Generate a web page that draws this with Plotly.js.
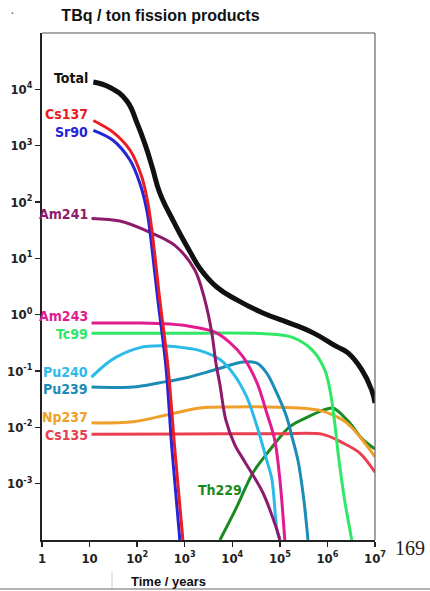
<!DOCTYPE html>
<html>
<head>
<meta charset="utf-8">
<script src="https://cdn.plot.ly/plotly-3.0.1.min.js"></script>
<style>
html,body{margin:0;padding:0;background:#fff;}
#chart{width:430px;height:591px;}
#chart text{font-stretch:condensed;}
</style>
</head>
<body>
<div id="chart"></div>
<script>
// ---- data (years, TBq per ton) ----
var totalT = [12, 27, 60, 100, 150, 210, 300, 560, 800, 1300, 2100, 4700, 12500, 44000, 160000, 490000, 1580000, 2700000, 5300000, 8500000, 10000000];
var totalY = [13500, 10800, 6300, 2500, 1000, 400, 144, 48, 27, 13, 6.6, 3.1, 1.83, 1.07, 0.71, 0.48, 0.27, 0.21, 0.105, 0.046, 0.027];

var cs137T = [12, 31, 71, 126, 168, 205, 300, 445, 620, 915];
var cs137Y = [2800, 1740, 830, 275, 96, 31, 1.8, 0.118, 0.004, 0.0001];

var sr90T = [12, 31, 71, 114, 160, 185, 273, 403, 540, 790];
var sr90Y = [1870, 1250, 550, 215, 71, 31, 1.8, 0.118, 0.004, 0.0001];

var am241T = [11, 43, 186, 620, 1630, 2650, 3720, 4530, 5500, 7300, 11300, 18300, 44000, 87000, 100000];
var am241Y = [51, 46, 29, 17, 6.2, 1.82, 0.47, 0.138, 0.057, 0.0136, 0.0049, 0.00245, 0.00069, 0.00015, 0.0001];

var am243T = [11, 114, 490, 1630, 4300, 8900, 16700, 33000, 53000, 78000, 100000, 127000];
var am243Y = [0.71, 0.71, 0.68, 0.60, 0.49, 0.32, 0.18, 0.062, 0.018, 0.006, 0.0012, 0.0001];

var tc99T = [11, 2000, 48000, 178000, 470000, 880000, 1180000, 1440000, 1740000, 2300000, 3250000];
var tc99Y = [0.47, 0.47, 0.46, 0.40, 0.24, 0.105, 0.038, 0.011, 0.0027, 0.00051, 0.0001];

var pu240T = [11, 21, 38, 115, 300, 920, 2090, 5500, 10300, 20000, 35000, 53000, 68000, 87000, 100000];
var pu240Y = [0.078, 0.128, 0.18, 0.26, 0.28, 0.26, 0.23, 0.16, 0.092, 0.035, 0.0089, 0.0026, 0.0012, 0.00015, 0.0001];

var pu239T = [11, 82, 300, 1100, 4300, 16700, 33000, 53000, 87000, 140000, 187000, 240000, 320000, 390000];
var pu239Y = [0.052, 0.052, 0.062, 0.076, 0.105, 0.145, 0.138, 0.092, 0.040, 0.015, 0.006, 0.0026, 0.00051, 0.0001];

var np237T = [11, 82, 420, 2090, 10300, 53000, 260000, 690000, 1300000, 2560000, 4800000, 10000000];
var np237Y = [0.012, 0.0126, 0.0166, 0.022, 0.023, 0.023, 0.022, 0.020, 0.0166, 0.012, 0.0068, 0.003];

var cs135T = [11, 1000, 100000, 800000, 2100000, 4800000, 10000000];
var cs135Y = [0.0075, 0.0076, 0.0077, 0.0075, 0.0053, 0.0035, 0.0016];

var th229T = [5500, 12500, 27000, 62000, 160000, 370000, 800000, 1300000, 2700000, 5300000, 10000000];
var th229Y = [0.0001, 0.00039, 0.00155, 0.004, 0.0102, 0.015, 0.020, 0.022, 0.013, 0.0063, 0.0041];

var xTickVals = [1, 10, 100, 1000, 10000, 100000, 1000000, 10000000];
var xTickText = ["1", "10", "10<sup>2</sup>", "10<sup>3</sup>", "10<sup>4</sup>", "10<sup>5</sup>", "10<sup>6</sup>", "10<sup>7</sup>"];
var yTickVals = [0.001, 0.01, 0.1, 1, 10, 100, 1000, 10000];
var yTickText = ["10<sup>-3</sup>", "10<sup>-2</sup>", "10<sup>-1</sup>", "10<sup>0</sup>", "10<sup>1</sup>", "10<sup>2</sup>", "10<sup>3</sup>", "10<sup>4</sup>"];

// ---- series definitions ----
var series = [
  {name: "Th229", t: th229T, y: th229Y, color: "#1c8a22", w: 3, lx: 3.74, ly: -3.11, anchor: "center"},
  {name: "Cs135", t: cs135T, y: cs135Y, color: "#e8404e", w: 3, lx: 1.0, ly: -2.13},
  {name: "Np237", t: np237T, y: np237Y, color: "#f0a02a", w: 3, lx: 1.0, ly: -1.82},
  {name: "Pu239", t: pu239T, y: pu239Y, color: "#1a8cb6", w: 3, lx: 1.0, ly: -1.32},
  {name: "Pu240", t: pu240T, y: pu240Y, color: "#2cbbe8", w: 3, lx: 1.0, ly: -1.02},
  {name: "Tc99",  t: tc99T,  y: tc99Y,  color: "#2ee866", w: 3, lx: 1.0, ly: -0.34},
  {name: "Am243", t: am243T, y: am243Y, color: "#e21c8e", w: 3, lx: 1.0, ly: -0.025},
  {name: "Am241", t: am241T, y: am241Y, color: "#8e1a6c", w: 3, lx: 1.0, ly: 1.78},
  {name: "Sr90",  t: sr90T,  y: sr90Y,  color: "#2424d8", w: 3, lx: 1.0, ly: 3.24},
  {name: "Cs137", t: cs137T, y: cs137Y, color: "#ec1c24", w: 3, lx: 1.0, ly: 3.57},
  {name: "Total", t: totalT, y: totalY, color: "#111111", w: 5, lx: 1.0, ly: 4.21, smooth: 1.3}
];

var labelFont = "'DejaVu Sans Condensed', 'DejaVu Sans', sans-serif";

var traces = series.map(function (s) {
  return {
    type: "scatter", mode: "lines", x: s.t, y: s.y, name: s.name,
    line: {color: s.color, width: s.w, shape: "spline", smoothing: s.smooth || 0.9},
    hoverinfo: "skip", showlegend: false
  };
});

var annotations = series.map(function (s) {
  return {
    xref: "x", yref: "y", x: s.lx, y: s.ly, text: s.name, showarrow: false,
    xanchor: s.anchor === "center" ? "center" : "right", yanchor: "middle",
    font: {family: labelFont, size: 14, color: s.color, weight: "bold"}
  };
});

annotations.push(
  {xref: "paper", yref: "paper", x: (168 - 42) / 333, y: (540 - 581) / 507, text: "Time / years",
   showarrow: false, xanchor: "center", yanchor: "middle",
   font: {family: "'Liberation Sans', Arial, sans-serif", size: 13, color: "#111", weight: "bold"}},
  {xref: "paper", yref: "paper", x: (410 - 42) / 333, y: (540 - 548) / 507, text: "169",
   showarrow: false, xanchor: "center", yanchor: "middle",
   font: {family: "'Liberation Serif', 'Times New Roman', serif", size: 20, color: "#222"}},
  {xref: "paper", yref: "paper", x: (12 - 42) / 333, y: (540 - 12) / 507, text: "·",
   showarrow: false, xanchor: "center", yanchor: "middle",
   font: {family: "'Liberation Sans', Arial, sans-serif", size: 14, color: "#666"}}
);

var axisFont = {family: labelFont, size: 13, color: "#222", weight: "bold"};

var layout = {
  width: 430, height: 591,
  margin: {l: 42, r: 55, t: 33, b: 51, pad: 0},
  paper_bgcolor: "#ffffff", plot_bgcolor: "#ffffff",
  title: {
    text: "<b>TBq / ton fission products</b>",
    x: 25 / 430, xanchor: "left", xref: "paper",
    y: 1 - 15 / 591, yanchor: "middle", yref: "container",
    font: {family: "'Liberation Sans', Arial, sans-serif", size: 16, color: "#111"}
  },
  xaxis: {
    type: "log", range: [0, 7], tickvals: xTickVals, ticktext: xTickText,
    ticks: "outside", ticklen: 5, tickwidth: 1.5, tickcolor: "#222",
    showline: true, linecolor: "#222", linewidth: 2,
    showgrid: false, zeroline: false, tickfont: axisFont
  },
  yaxis: {
    type: "log", range: [-4, 5], tickvals: yTickVals, ticktext: yTickText,
    ticks: "outside", ticklen: 5, tickwidth: 1.5, tickcolor: "#222",
    showline: true, linecolor: "#222", linewidth: 2,
    showgrid: false, zeroline: false, tickfont: axisFont
  },
  shapes: [
    {type: "line", xref: "paper", yref: "paper", x0: 0, x1: 1, y0: 1, y1: 1, line: {color: "#555", width: 1.2}},
    {type: "line", xref: "paper", yref: "paper", x0: 1, x1: 1, y0: 0, y1: 1, line: {color: "#666", width: 1.2}},
    {type: "line", xref: "paper", yref: "paper", x0: -42 / 333, x1: 388 / 333, y0: (540 - 589) / 507, y1: (540 - 589) / 507, line: {color: "#999", width: 1.5}},
    {type: "line", xref: "paper", yref: "paper", x0: (112 - 42) / 333, x1: (112 - 42) / 333, y0: (540 - 571) / 507, y1: (540 - 588) / 507, line: {color: "#ccc", width: 1}}
  ],
  annotations: annotations,
  showlegend: false
};

Plotly.newPlot("chart", traces, layout, {displayModeBar: false, staticPlot: true});
</script>
</body>
</html>
